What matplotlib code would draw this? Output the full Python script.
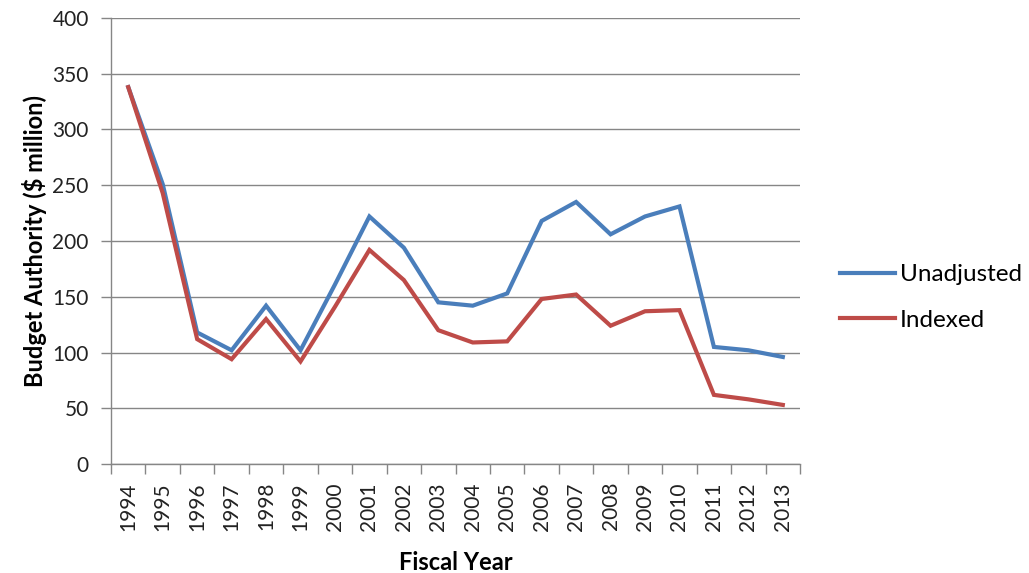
import matplotlib.pyplot as plt
import numpy as np

# Presupuesto anual (millones de dólares), año fiscal 1994-2013
years = ['1994', '1995', '1996', '1997', '1998', '1999', '2000', '2001', '2002', '2003',
         '2004', '2005', '2006', '2007', '2008', '2009', '2010', '2011', '2012', '2013']
unadjusted = [338, 251, 118, 102, 142, 102, 161, 222, 194, 145,
              142, 153, 218, 235, 206, 222, 231, 105, 102, 96]
indexed = [338, 243, 112, 94, 130, 92, 141, 192, 165, 120,
           109, 110, 148, 152, 124, 137, 138, 62, 58, 53]

plt.rcParams['font.family'] = ['Lato', 'DejaVu Sans']

fig = plt.figure(figsize=(10.29, 5.73), dpi=100)
ax = fig.add_axes([0.1079, 0.1902, 0.6696, 0.7784])

x = np.arange(len(years))
ax.plot(x, unadjusted, color='#4A7EBB', lw=3, label='Unadjusted', solid_joinstyle='miter')
ax.plot(x, indexed, color='#BE4B48', lw=3, label='Indexed', solid_joinstyle='miter')

# Ejes
ax.set_xlim(-0.5, len(years) - 0.5)
ax.set_ylim(0, 400)
ax.set_yticks(range(0, 401, 50))
ax.tick_params(axis='y', labelsize=15, length=7, color='#868686', width=1, pad=9,
               labelcolor='#222222')
ax.set_xticks(x)
ax.set_xticklabels(years, rotation=90, fontsize=15, color='#222222')
ax.tick_params(axis='x', which='major', length=0, pad=13)
ax.set_xticks(np.arange(-0.5, len(years), 1), minor=True)
ax.tick_params(axis='x', which='minor', length=7, color='#868686', width=1)

ax.grid(axis='y', color='#868686', lw=1)
ax.set_axisbelow(True)
for s in ['top', 'right']:
    ax.spines[s].set_visible(False)
for s in ['left', 'bottom']:
    ax.spines[s].set_color('#868686')
    ax.spines[s].set_linewidth(1)

ax.set_xlabel('Fiscal Year', fontsize=17, fontweight='bold', labelpad=15)
ax.set_ylabel('Budget Authority ($ million)', fontsize=17, fontweight='bold', labelpad=4)

fig.legend(loc='center left', bbox_to_anchor=(0.8163, 0.4808), frameon=False,
           fontsize=17.5, handlelength=2.26, handletextpad=0.2, labelspacing=1.0,
           borderpad=0, borderaxespad=0)

fig.savefig('out.png', dpi=100)
